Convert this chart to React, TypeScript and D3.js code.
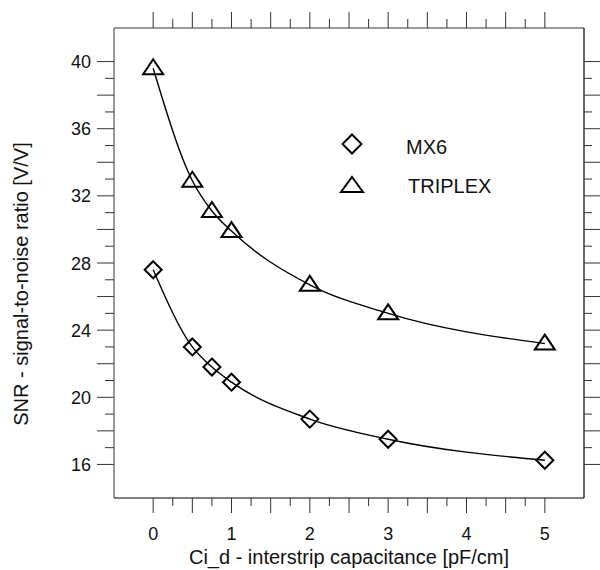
import React from "react";
import * as d3 from "d3";

const capacitance = [0, 0.5, 0.75, 1, 2, 3, 5];
const mx6 = [27.6, 23.0, 21.8, 20.9, 18.7, 17.5, 16.25];
const triplex = [39.6, 32.9, 31.1, 29.9, 26.7, 25.0, 23.2];
const xTickLabels = [0, 1, 2, 3, 4, 5];
const yTickLabels = [16, 20, 24, 28, 32, 36, 40];
const legendNames = ["MX6", "TRIPLEX"];

const W = 600;
const H = 570;
const L = 114, R = 584, T = 28, B = 498;
const FONT = "Arial, 'Liberation Sans', sans-serif";

function trianglePath(cx: number, cy: number, w: number, h: number) {
  return `M${cx},${cy - h * 0.6}L${cx + w / 2},${cy + h * 0.4}L${cx - w / 2},${cy + h * 0.4}Z`;
}
function diamondPath(cx: number, cy: number, s: number) {
  return `M${cx},${cy - s}L${cx + s},${cy}L${cx},${cy + s}L${cx - s},${cy}Z`;
}

export default function App() {
  const x = d3.scaleLinear().domain([-0.5, 5.5]).range([L, R]);
  const y = d3.scaleLinear().domain([14, 42]).range([B, T]);

  const xTicks = d3.range(0, 5.001, 0.25);
  const yTicks = d3.range(16, 40.001, 1);

  const line = d3
    .line<number>()
    .x((_, i) => x(capacitance[i]))
    .y((d) => y(d))
    .curve(d3.curveMonotoneX);

  return (
    <svg width={W} height={H} style={{ position: "absolute", left: 0, top: 0 }} fontFamily={FONT}>
      <rect x={0} y={0} width={W} height={H} fill="#fff" />
      {/* frame */}
      <line x1={L} y1={T} x2={L} y2={B} stroke="#777" strokeWidth={1.5} />
      <line x1={L} y1={T} x2={R} y2={T} stroke="#777" strokeWidth={1.5} />
      <line x1={R} y1={T} x2={R} y2={B} stroke="#000" strokeWidth={1.2} />
      <line x1={L} y1={B} x2={R} y2={B} stroke="#000" strokeWidth={1.2} />

      {/* x ticks */}
      {xTicks.map((t, i) => {
        const major = Math.abs(t * 2 - Math.round(t * 2)) < 1e-6;
        const len = major ? 15 : 8;
        return (
          <g key={"xt" + i} stroke="#333" strokeWidth={1}>
            <line x1={x(t)} x2={x(t)} y1={B} y2={B + len} />
            <line x1={x(t)} x2={x(t)} y1={T} y2={T - len - 1} />
          </g>
        );
      })}
      {/* y ticks */}
      {yTicks.map((t, i) => {
        const major = t % 2 === 0;
        const len = major ? 16 : 8;
        return (
          <g key={"yt" + i} stroke="#333" strokeWidth={1}>
            <line x1={L} x2={L - len - 1} y1={y(t)} y2={y(t)} />
            <line x1={R} x2={R + len} y1={y(t)} y2={y(t)} />
          </g>
        );
      })}
      {/* tick labels */}
      {xTickLabels.map((t) => (
        <text key={"xl" + t} x={x(t)} y={540} fontSize={18} textAnchor="middle" fill="#111">
          {t}
        </text>
      ))}
      {yTickLabels.map((t) => (
        <text key={"yl" + t} x={91} y={y(t) + 6.5} fontSize={18} textAnchor="end" fill="#111">
          {t}
        </text>
      ))}
      {/* axis titles */}
      <text x={(L + R) / 2} y={564} fontSize={20} textAnchor="middle" fill="#111">
        Ci_d - interstrip capacitance [pF/cm]
      </text>
      <text
        transform={`translate(28,284) rotate(-90)`}
        fontSize={20}
        textAnchor="middle"
        fill="#111"
      >
        SNR - signal-to-noise ratio [V/V]
      </text>

      {/* curves */}
      <path d={line(mx6) || ""} fill="none" stroke="#000" strokeWidth={1.4} />
      <path d={line(triplex) || ""} fill="none" stroke="#000" strokeWidth={1.4} />

      {/* markers */}
      {mx6.map((v, i) => (
        <path key={"m" + i} d={diamondPath(x(capacitance[i]), y(v), 8.5)} fill="none" stroke="#000" strokeWidth={2} />
      ))}
      {triplex.map((v, i) => (
        <path key={"t" + i} d={trianglePath(x(capacitance[i]), y(v), 20, 15)} fill="none" stroke="#000" strokeWidth={2} />
      ))}

      {/* legend */}
      <path d={diamondPath(352, 144, 9.5)} fill="none" stroke="#000" strokeWidth={2} />
      <text x={406} y={154} fontSize={20} fill="#111">{legendNames[0]}</text>
      <path d={trianglePath(352, 186, 22, 15)} fill="none" stroke="#000" strokeWidth={2} />
      <text x={408} y={193} fontSize={20} fill="#111">{legendNames[1]}</text>
    </svg>
  );
}
